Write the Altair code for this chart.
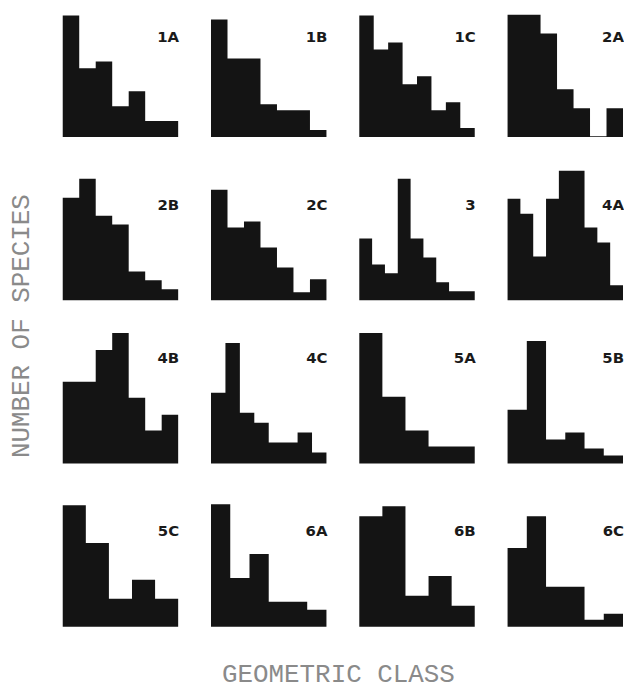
import altair as alt
import pandas as pd

# Panel labels (reading order, 4 per row)
panel_names = ["1A", "1B", "1C", "2A",
               "2B", "2C", "3", "4A",
               "4B", "4C", "5A", "5B",
               "5C", "6A", "6B", "6C"]

# Number of species per geometric class (relative units)
s_1A = [122, 69, 76, 31, 46, 16, 16]
s_1B = [118, 79, 79, 33, 27, 27, 7]
s_1C = [122, 88, 95, 53, 61, 27, 35, 9]
s_2A = [123, 123, 104, 48, 29, 0.7, 29]
s_2B = [103, 122, 85, 76, 29, 20, 11]
s_2C = [111, 73, 79, 53, 33, 8, 21]
s_3 = [62, 36, 27, 122, 62, 43, 18, 9, 9]
s_4A = [102, 87, 44, 102, 130, 130, 73, 58, 15]
s_4B = [82, 82, 114, 131, 66, 33, 49]
s_4C = [71, 121, 51, 41, 21, 21, 31, 11]
s_5A = [131, 67, 33, 17, 17]
s_5B = [54, 123, 24, 31, 15, 8]
s_5C = [122, 84, 28, 47, 28]
s_6A = [123, 49, 73, 25, 25, 17]
s_6B = [111, 121, 31, 51, 21]
s_6C = [79, 111, 40, 40, 7, 13]

series = [s_1A, s_1B, s_1C, s_2A, s_2B, s_2C, s_3, s_4A,
          s_4B, s_4C, s_5A, s_5B, s_5C, s_6A, s_6B, s_6C]

y_title = "NUMBER OF SPECIES"
x_title = "GEOMETRIC CLASS"

# layout constants
PANEL_W = 116
ROW_H = [128, 131, 131, 131]
LABEL_Y = [33, 40, 30, 40]
BAR = "#141414"
TITLE_FONT = "Liberation Mono"
TITLE_COLOR = "#8a8a8a"


def panel(name, vals, row):
    h = ROW_H[row]
    n = len(vals)
    # step outline: each class starts at its index, last class closed at n
    df = pd.DataFrame({
        "cls": list(range(n)) + [n],
        "species": list(vals) + [vals[-1]],
    })
    bars = alt.Chart(df).mark_area(color=BAR, interpolate="step-after", opacity=1).encode(
        x=alt.X("cls:Q", scale=alt.Scale(domain=[0, n], nice=False, zero=False), axis=None),
        y=alt.Y("species:Q", scale=alt.Scale(domain=[0, h], nice=False), axis=None),
        y2=alt.datum(0),
    )
    lab = alt.Chart(pd.DataFrame({"label": [name]})).mark_text(
        font="DejaVu Sans", fontWeight="bold", fontSize=15, color="#1a1a1a",
        align="right", baseline="alphabetic",
    ).encode(text="label:N", x=alt.value(PANEL_W + 1), y=alt.value(LABEL_Y[row]))
    return alt.layer(bars, lab).properties(width=PANEL_W, height=h)


rows = []
for r in range(4):
    charts = [panel(panel_names[r * 4 + c], series[r * 4 + c], r) for c in range(4)]
    rows.append(alt.hconcat(*charts, spacing=32))
grid = alt.vconcat(*rows, spacing=33)

grid_h = sum(ROW_H) + 3 * 33

ytitle = alt.Chart(pd.DataFrame({"t": [y_title]})).mark_text(
    font=TITLE_FONT, fontSize=26, color=TITLE_COLOR, angle=270,
    align="center", baseline="middle",
).encode(text="t:N", x=alt.value(13), y=alt.value(318)).properties(width=30, height=grid_h)

xtitle = alt.Chart(pd.DataFrame({"t": [x_title]})).mark_text(
    font=TITLE_FONT, fontSize=26, color=TITLE_COLOR,
    align="center", baseline="middle",
).encode(text="t:N", x=alt.value(332), y=alt.value(28)).properties(width=600, height=25)

top = alt.hconcat(ytitle, grid, spacing=25)
chart = alt.vconcat(top, xtitle, spacing=20).properties(
    padding={"left": 0, "top": 0, "right": 0, "bottom": 0}
).configure_view(stroke=None)

chart.save("out.html", embed_options={"renderer": "svg", "actions": False})
